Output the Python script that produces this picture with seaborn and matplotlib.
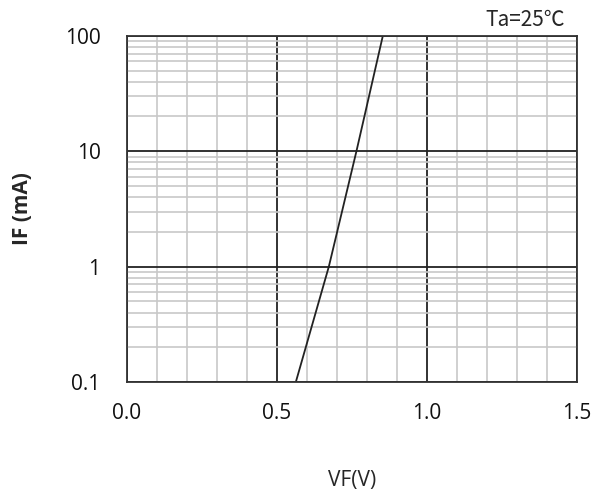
import numpy as np
import matplotlib
matplotlib.use("Agg")
import matplotlib.pyplot as plt
import seaborn as sns
from matplotlib.ticker import LogLocator, MultipleLocator, FixedLocator

# forward characteristic
vf = [0.563, 0.673, 0.765, 0.853]
if_ma = [0.1, 1, 10, 100]
x_ticks = [0.0, 0.5, 1.0, 1.5]
y_ticks = [0.1, 1, 10, 100]
y_labels = ["0.1", "1", "10", "100"]

sns.set_style("white")
plt.rcParams["font.family"] = ["Open Sans", "DejaVu Sans"]

fig = plt.figure(figsize=(5.96, 4.91), dpi=100)
ax = fig.add_axes([0.213, 0.222, 0.755, 0.705])

sns.lineplot(x=vf, y=if_ma, ax=ax, color="#222222", linewidth=1.3)

ax.set_yscale("log")
ax.set_xlim(0, 1.5)
ax.set_ylim(0.1, 100)

# light grid
ax.xaxis.set_minor_locator(MultipleLocator(0.1))
ax.yaxis.set_minor_locator(LogLocator(base=10, subs=np.arange(2, 10)))
ax.grid(which="minor", color="#c8c8c8", linewidth=1.2)
ax.set_xticks(x_ticks)
ax.set_xticklabels([f"{v:.1f}" for v in x_ticks])
ax.yaxis.set_major_locator(FixedLocator(y_ticks))
ax.set_yticklabels(y_labels)
ax.grid(which="major", color="#222222", linewidth=1.3)
ax.set_axisbelow(True)

for s in ax.spines.values():
    s.set_color("#333333")
    s.set_linewidth(1.3)

ax.tick_params(which="both", length=0, labelsize=15, colors="#111111")
ax.tick_params(axis="x", pad=15)
ax.tick_params(axis="y", pad=19)

ax.set_xlabel("VF(V)", fontsize=15)
ax.xaxis.set_label_coords(0.5, -0.255)
ax.set_ylabel("IF (mA)", fontsize=15, fontweight="bold", va="center")
ax.yaxis.set_label_coords(-0.233, 0.5)
fig.text(0.948, 0.959, "Ta=25℃", ha="right", va="center", fontsize=15,
         family=["Noto Sans CJK SC", "DejaVu Sans"])

fig.savefig("out.png", dpi=100)
